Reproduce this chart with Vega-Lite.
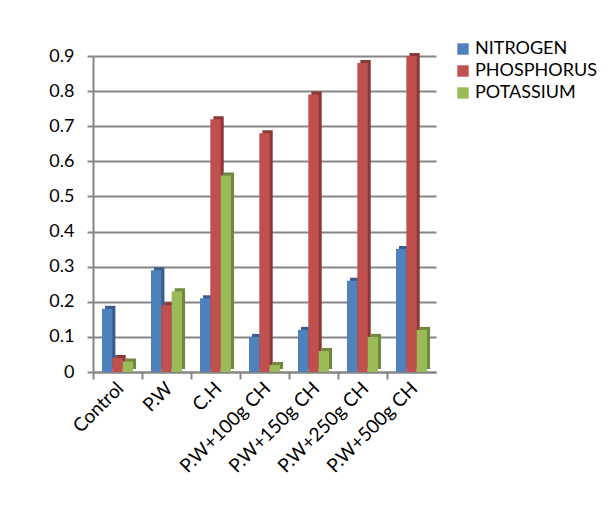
{
  "$schema": "https://vega.github.io/schema/vega-lite/v6.json",
  "autosize": {"type": "none"},
  "width": 343,
  "height": 316,
  "padding": {"left": 93, "top": 56, "right": 180, "bottom": 152},
  "background": "white",
  "config": {
    "font": "Lato",
    "view": {"stroke": null},
    "axis": {"labelFont": "Lato", "labelColor": "#000000"},
    "legend": {"labelFont": "Lato"}
  },
  "data": {
    "values": [
      {"treatment": "Control", "nutrient": "NITROGEN", "value": 0.18},
      {"treatment": "Control", "nutrient": "PHOSPHORUS", "value": 0.04},
      {"treatment": "Control", "nutrient": "POTASSIUM", "value": 0.03},
      {"treatment": "P.W", "nutrient": "NITROGEN", "value": 0.29},
      {"treatment": "P.W", "nutrient": "PHOSPHORUS", "value": 0.19},
      {"treatment": "P.W", "nutrient": "POTASSIUM", "value": 0.23},
      {"treatment": "C.H", "nutrient": "NITROGEN", "value": 0.21},
      {"treatment": "C.H", "nutrient": "PHOSPHORUS", "value": 0.72},
      {"treatment": "C.H", "nutrient": "POTASSIUM", "value": 0.56},
      {"treatment": "P.W+100g CH", "nutrient": "NITROGEN", "value": 0.10},
      {"treatment": "P.W+100g CH", "nutrient": "PHOSPHORUS", "value": 0.68},
      {"treatment": "P.W+100g CH", "nutrient": "POTASSIUM", "value": 0.02},
      {"treatment": "P.W+150g CH", "nutrient": "NITROGEN", "value": 0.12},
      {"treatment": "P.W+150g CH", "nutrient": "PHOSPHORUS", "value": 0.79},
      {"treatment": "P.W+150g CH", "nutrient": "POTASSIUM", "value": 0.06},
      {"treatment": "P.W+250g CH", "nutrient": "NITROGEN", "value": 0.26},
      {"treatment": "P.W+250g CH", "nutrient": "PHOSPHORUS", "value": 0.88},
      {"treatment": "P.W+250g CH", "nutrient": "POTASSIUM", "value": 0.10},
      {"treatment": "P.W+500g CH", "nutrient": "NITROGEN", "value": 0.35},
      {"treatment": "P.W+500g CH", "nutrient": "PHOSPHORUS", "value": 0.90},
      {"treatment": "P.W+500g CH", "nutrient": "POTASSIUM", "value": 0.12}
    ]
  },
  "encoding": {
    "x": {
      "field": "treatment",
      "type": "nominal",
      "sort": ["Control", "P.W", "C.H", "P.W+100g CH", "P.W+150g CH", "P.W+250g CH", "P.W+500g CH"],
      "scale": {"paddingInner": 0, "paddingOuter": 0},
      "axis": {
        "title": null,
        "bandPosition": 0,
        "labelAngle": -45,
        "labelAlign": "right",
        "labelBaseline": "middle",
        "labelOffset": 3,
        "labelPadding": 6,
        "labelFontSize": 19,
        "tickColor": "#868686",
        "tickWidth": 2,
        "tickSize": 7,
        "domainColor": "#868686",
        "domainWidth": 2,
        "grid": false
      }
    },
    "y": {
      "field": "value",
      "type": "quantitative",
      "scale": {"domain": [0, 0.9], "nice": false},
      "axis": {
        "title": null,
        "values": [0, 0.1, 0.2, 0.3, 0.4, 0.5, 0.6, 0.7, 0.8, 0.9],
        "labelExpr": "datum.value == 0 ? '0' : format(datum.value, '.1f')",
        "labelFontSize": 18,
        "labelPadding": 13,
        "tickColor": "#868686",
        "tickWidth": 2,
        "tickSize": 6,
        "domainColor": "#868686",
        "domainWidth": 2,
        "gridColor": "#868686",
        "gridWidth": 2
      }
    }
  },
  "layer": [
    {
      "mark": {"type": "bar", "yOffset": -3},
      "encoding": {
        "xOffset": {
          "field": "nutrient",
          "type": "nominal",
          "sort": ["NITROGEN", "PHOSPHORUS", "POTASSIUM"],
          "scale": {"paddingInner": 0, "paddingOuter": 0.87, "align": 0.67}
        },
        "color": {
          "field": "nutrient",
          "type": "nominal",
          "scale": {"domain": ["NITROGEN", "PHOSPHORUS", "POTASSIUM"], "range": ["#385D8A", "#8C3836", "#71893F"]},
          "legend": null
        }
      }
    },
    {
      "mark": {"type": "bar"},
      "encoding": {
        "xOffset": {
          "field": "nutrient",
          "type": "nominal",
          "sort": ["NITROGEN", "PHOSPHORUS", "POTASSIUM"],
          "scale": {"paddingInner": 0, "paddingOuter": 0.87, "align": 0.5}
        },
        "color": {
          "field": "nutrient",
          "type": "nominal",
          "scale": {"domain": ["NITROGEN", "PHOSPHORUS", "POTASSIUM"], "range": ["#4F81BD", "#C0504D", "#9BBB59"]},
          "legend": {
            "title": null,
            "orient": "none",
            "legendX": 361,
            "legendY": -16,
            "padding": 0,
            "symbolType": "square",
            "symbolSize": 130,
            "symbolStrokeWidth": 0,
            "labelFontSize": 18,
            "labelColor": "#000000",
            "labelOffset": 3,
            "rowPadding": 4
          }
        }
      }
    }
  ],
  "resolve": {"scale": {"color": "independent", "xOffset": "independent"}}
}
